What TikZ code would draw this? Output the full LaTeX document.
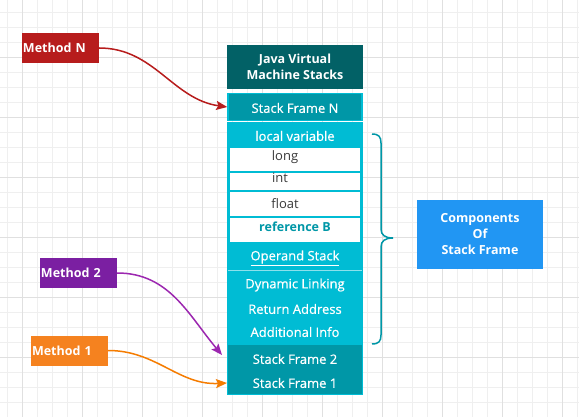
\documentclass[tikz,border=0pt]{standalone}
\usepackage{fontspec}
\setmainfont{Open Sans}
\newfontfamily\medfont[FakeBold=0.6]{Open Sans}
\usetikzlibrary{arrows.meta}
\definecolor{jvmdark}{HTML}{026166}
\definecolor{tealc}{HTML}{0097A7}
\definecolor{cyanc}{HTML}{00BCD4}
\definecolor{bluec}{HTML}{2196F3}
\definecolor{redc}{HTML}{B71C1C}
\definecolor{purplebox}{HTML}{7B1FA2}
\definecolor{purplearr}{HTML}{9C27B0}
\definecolor{orangebox}{HTML}{F5821F}
\definecolor{orangearr}{HTML}{F57C00}
\definecolor{gridminor}{HTML}{EFEFEF}
\definecolor{gridmajor}{HTML}{E0E0E0}
\definecolor{darktext}{HTML}{3A3A3A}
\tikzset{
  wtxt/.style={text=white, font=\medfont\fontsize{13}{15}\selectfont, inner sep=0pt},
  slotbox/.style={fill=white, draw=cyanc, line width=1.5pt, minimum width=132pt, inner sep=0pt},
  slottxt/.style={text=darktext, font=\fontsize{13}{15}\selectfont, inner sep=0pt},
  methodbox/.style={text=white, font=\bfseries\fontsize{12.5}{15}\selectfont, minimum width=77pt, minimum height=30pt, text width=75pt, align=left, inner sep=1pt},
  conn/.style={line width=1.5pt, -{Stealth[length=11pt,width=9pt,inset=2pt]}}
}
\begin{document}
\begin{tikzpicture}[x=1pt,y=-1pt]
\useasboundingbox (0,0) rectangle (579,417);
\fill[white] (0,0) rectangle (579,417);
% grid
\foreach \x in {7,22,...,577} \draw[gridminor, line width=0.8pt] (\x,0) -- (\x,417);
\foreach \y in {12,27,...,417} \draw[gridminor, line width=0.8pt] (0,\y) -- (579,\y);
\foreach \x in {22,82,...,562} \draw[gridmajor, line width=0.8pt] (\x,0) -- (\x,417);
\foreach \y in {57,117,...,357} \draw[gridmajor, line width=0.8pt] (0,\y) -- (579,\y);

% JVM column
\node[fill=jvmdark, minimum width=136pt, minimum height=44pt, inner sep=0pt, text=white, align=center,
      font=\bfseries\fontsize{12.5}{16}\selectfont] (jvm) at (295,67) {Java Virtual\\Machine Stacks};
\node[fill=tealc, draw=cyanc, line width=1.5pt, minimum width=134pt, minimum height=27pt, inner sep=0pt] (sfN) at (295,107) {};
\node[wtxt] (sfNt) at (295,108) {Stack Frame N};

\node[fill=cyanc, minimum width=136pt, minimum height=222pt, inner sep=0pt] (body) at (295,234) {};
\node[wtxt] (lv) at (295,136) {local variable};

\node[slotbox, minimum height=25pt] (longb) at (295,159.5) {};
\node[slotbox, minimum height=19pt] (intb) at (295,181.5) {};
\node[slotbox, minimum height=26pt] (floatb) at (295,204) {};
\node[slotbox, minimum height=26pt] (refb) at (295,230) {};
\node[slottxt] (longt) at (285,157) {long};
\node[slottxt] (intt) at (280,178) {int};
\node[slottxt] (floatt) at (285,204) {float};
\node[inner sep=0pt, text=tealc, font=\bfseries\fontsize{12.5}{15}\selectfont] (reft) at (295,227) {reference B};

\node[wtxt] (ops) at (295,258) {\underline{Operand Stack}};
\draw[white!55!cyanc, line width=1pt] (228,270.5) -- (362,270.5);
\node[wtxt] (dyn) at (295,285) {Dynamic Linking};
\node[wtxt] (ret) at (295,309) {Return Address};
\node[wtxt] (add) at (295,332) {Additional Info};

\node[fill=tealc, minimum width=136pt, minimum height=49pt, inner sep=0pt] (bottom) at (295,369.5) {};
\node[wtxt] (sf2) at (295,359) {Stack Frame 2};
\node[wtxt] (sf1) at (295,383) {Stack Frame 1};
\draw[cyanc, line width=1pt] (227.5,123) rectangle (362.5,394);

% brace
\draw[tealc, line width=1.5pt] (372,134) .. controls (379,134) and (381,137) .. (381,143)
  -- (381,229) .. controls (381,235) and (385,238) .. (393,238)
  .. controls (385,238) and (381,241) .. (381,247)
  -- (381,335) .. controls (381,341) and (379,344) .. (372,344);

% components
\node[fill=bluec, minimum width=126pt, minimum height=69pt, inner sep=0pt, text=white, align=center,
      font=\bfseries\fontsize{12.5}{16}\selectfont] (comp) at (480,234.5) {Components\\Of\\Stack Frame};

% methods
\node[methodbox, fill=redc] (mN) at (60.5,48) {Method N};
\node[methodbox, fill=purplebox] (m2) at (78.5,273) {Method 2};
\node[methodbox, fill=orangebox] (m1) at (69.5,350.5) {Method 1};

\coordinate (t2) at (222,355);
\draw[conn, redc] (mN.east) to[out=0, in=172] (sfN.west);
\draw[conn, purplearr] (m2.east) to[out=0, in=130] (t2);
\draw[conn, orangearr] (m1.east) to[out=0, in=183] (227,383) coordinate (t1);
\end{tikzpicture}
\end{document}
